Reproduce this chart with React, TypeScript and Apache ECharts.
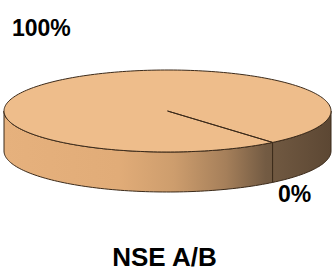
import React, { useEffect, useRef } from "react";
import * as echarts from "echarts";

// ---- data ----
const categories: string[] = ["Segmento 1", "Segmento 2"];
const values: number[] = [100, 0];
const title = "NSE A/B";

// ---- layout / style (not data) ----
const START_ANGLE = 50; // degrees, screen clockwise from 3 o'clock
const CX = 167.5;
const CY = 111;
const RX = 163.5;
const RY = 41;
const DEPTH = 40;
const LABEL_POS: [number, number][] = [
  [12, 28],
  [278, 194],
];
const FONT = 'Arial, "Liberation Sans", Helvetica, sans-serif';
const TOP_COLOR = "#EEBD8B";
const EDGE = "#3b2a1a";

function pt(deg: number, dy = 0): [number, number] {
  const r = (deg * Math.PI) / 180;
  return [CX + RX * Math.cos(r), CY + RY * Math.sin(r) + dy];
}

function arcPoints(a0: number, a1: number, dy = 0): [number, number][] {
  const pts: [number, number][] = [];
  const n = Math.max(2, Math.ceil(Math.abs(a1 - a0) / 1.5));
  for (let i = 0; i <= n; i++) pts.push(pt(a0 + ((a1 - a0) * i) / n, dy));
  return pts;
}

export default function App() {
  const ref = useRef<HTMLDivElement>(null);

  useEffect(() => {
    if (!ref.current) return;
    const chart = echarts.init(ref.current, undefined, { renderer: "svg" });
    const total = values.reduce((a, b) => a + b, 0);

    const sideFill = {
      type: "linear",
      x: CX - RX,
      y: 0,
      x2: CX + RX,
      y2: 0,
      global: true,
      colorStops: [
        { offset: 0, color: "#E6B17D" },
        { offset: 0.35, color: "#E1AC78" },
        { offset: 0.52, color: "#CD9D6D" },
        { offset: 0.68, color: "#A57F5A" },
        { offset: 0.8, color: "#735B43" },
        { offset: 1, color: "#5C4733" },
      ],
    };

    const renderItem = (params: any) => {
      const i = params.dataIndex;
      let before = 0;
      for (let k = 0; k < i; k++) before += values[k];
      const a0 = START_ANGLE + (before / total) * 360;
      const a1 = START_ANGLE + ((before + values[i]) / total) * 360;
      const children: any[] = [];

      if (a1 > a0) {
        // side wall (front half only)
        for (let k = -1; k <= 2; k++) {
          const lo = Math.max(a0, 360 * k);
          const hi = Math.min(a1, 360 * k + 180);
          if (hi > lo) {
            const pts = arcPoints(lo, hi).concat(arcPoints(hi, lo, DEPTH));
            children.push({
              type: "polygon",
              shape: { points: pts },
              style: { fill: sideFill, stroke: EDGE, lineWidth: 1 },
              z2: 1,
            });
          }
        }
        // top face
        const topPts: [number, number][] = [[CX, CY] as [number, number]].concat(
          arcPoints(a0, a1)
        );
        children.push({
          type: "polygon",
          shape: { points: topPts },
          style: { fill: TOP_COLOR, stroke: EDGE, lineWidth: 1, lineJoin: "round" },
          z2: 2,
        });
      }

      const pct = Math.round((values[i] / total) * 100);
      children.push({
        type: "text",
        x: LABEL_POS[i][0],
        y: LABEL_POS[i][1],
        style: {
          text: pct + "%",
          fill: "#000",
          font: "bold 23px " + FONT,
          textAlign: "left",
          textVerticalAlign: "middle",
          verticalAlign: "middle",
        },
        z2: 3,
      });

      return { type: "group", children };
    };

    chart.setOption({
      animation: false,
      series: [
        {
          type: "custom",
          coordinateSystem: "none",
          renderItem,
          data: values.map((v, i) => ({ name: categories[i], value: v })),
          silent: true,
        },
      ],
      graphic: [
        {
          type: "text",
          x: 164.5,
          y: 256.5,
          style: {
            text: title,
            fill: "#000",
            font: "bold 26px " + FONT,
            lineHeight: 24,
            textAlign: "center",
            textVerticalAlign: "middle",
            verticalAlign: "middle",
          },
        },
      ],
    });
    return () => chart.dispose();
  }, []);

  return (
    <div
      ref={ref}
      style={{ position: "fixed", left: 0, top: 0, width: 332, height: 270, background: "#fff" }}
    />
  );
}
